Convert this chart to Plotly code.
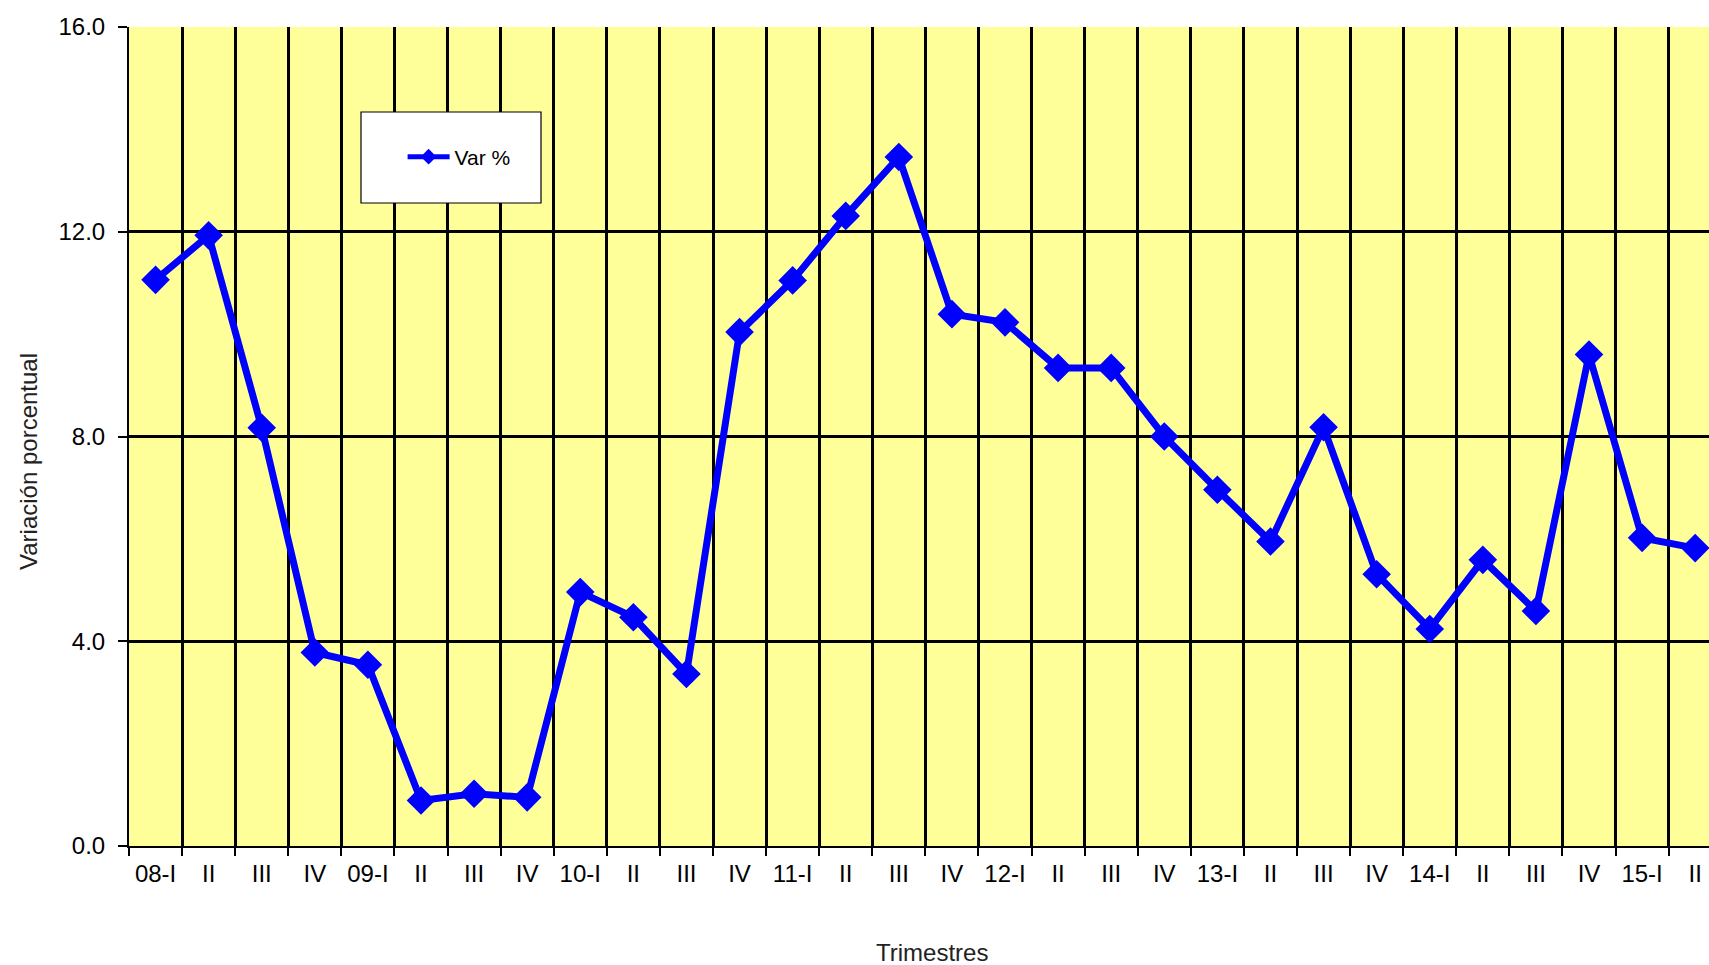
import plotly.graph_objects as go

categories = ["08-I", "II", "III", "IV", "09-I", "II", "III", "IV",
              "10-I", "II", "III", "IV", "11-I", "II", "III", "IV",
              "12-I", "II", "III", "IV", "13-I", "II", "III", "IV",
              "14-I", "II", "III", "IV", "15-I", "II"]
var_pct = [11.06, 11.93, 8.17, 3.78, 3.54, 0.89, 1.02, 0.95,
           4.96, 4.47, 3.36, 10.04, 11.05, 12.31, 13.46, 10.39,
           10.23, 9.34, 9.34, 8.00, 6.96, 5.95, 8.18, 5.31,
           4.24, 5.59, 4.59, 9.60, 6.02, 5.82]
series_name = "Var %"
y_ticks = [0, 4, 8, 12, 16]
y_title = "Variación porcentual"
x_title = "Trimestres"

# unique internal keys so repeated labels ("II", "III", ...) stay separate categories
x_keys = [f"{i}_{c}" for i, c in enumerate(categories)]

FONT = "Liberation Sans, Arial, sans-serif"

# page body margin is removed, so figure pixels == window pixels
OFF = 0
W, H = 1709, 965
L, T, B = 129, 27, 119
PW, PH = W - L, H - T - B   # plot area in px


def px_x(page_x):
    return (page_x - OFF - L) / PW


def px_y(page_y):
    return (H - B - (page_y - OFF)) / PH


fig = go.Figure()
fig.add_trace(go.Scatter(
    x=x_keys, y=var_pct, name=series_name, mode="lines+markers",
    line=dict(color="#0000FF", width=7),
    marker=dict(symbol="diamond", size=22, color="#0000FF"),
))

fig.update_layout(
    width=W, height=H,
    margin=dict(l=L, r=0, t=T, b=B),
    paper_bgcolor="white",
    plot_bgcolor="#FFFF99",
    font=dict(family=FONT, size=24, color="black"),
    showlegend=True,
    legend=dict(
        x=px_x(402.6), y=px_y(157), xanchor="left", yanchor="middle",
        bgcolor="rgba(0,0,0,0)", borderwidth=0,
        font=dict(family=FONT, size=21, color="black"),
        itemsizing="constant", itemwidth=42,
    ),
    shapes=[dict(
        type="rect", xref="paper", yref="paper",
        x0=px_x(361), x1=px_x(541),
        y0=px_y(203), y1=px_y(112),
        fillcolor="white", line=dict(color="black", width=1.2),
        layer="above",
    )],
    annotations=[
        dict(text=x_title, xref="paper", yref="paper",
             x=px_x(932), y=px_y(952),
             showarrow=False, xanchor="center", yanchor="middle",
             font=dict(family=FONT, size=24, color="#222222")),
        dict(text=y_title, xref="paper", yref="paper",
             x=px_x(28), y=px_y(462), textangle=-90,
             showarrow=False, xanchor="center", yanchor="middle",
             font=dict(family=FONT, size=24, color="#222222")),
    ],
)

fig.update_xaxes(
    type="category",
    range=[-0.5, 29.26],
    tickmode="array", tickvals=x_keys, ticktext=categories,
    tickson="boundaries",
    ticks="outside", ticklen=8, tickwidth=2, tickcolor="black",
    showgrid=True, gridcolor="black", gridwidth=2.5,
    showline=True, linecolor="black", linewidth=2,
    tickfont=dict(family=FONT, size=24, color="black"),
    ticklabelstandoff=5,
    zeroline=False,
)
fig.update_yaxes(
    range=[0, 16],
    tickmode="array", tickvals=y_ticks, ticktext=[f"{v:.1f}" for v in y_ticks],
    ticks="outside", ticklen=9, tickwidth=2, tickcolor="black",
    showgrid=True, gridcolor="black", gridwidth=2.5,
    showline=True, linecolor="black", linewidth=2,
    tickfont=dict(family=FONT, size=24, color="black"),
    ticklabelstandoff=8,
    zeroline=False,
)

fig.write_html(
    "out.html",
    config={"displayModeBar": False},
    default_width=f"{W}px", default_height=f"{H}px",
    post_script="document.body.style.margin='0';"
                "document.documentElement.style.overflow='hidden';",
)
